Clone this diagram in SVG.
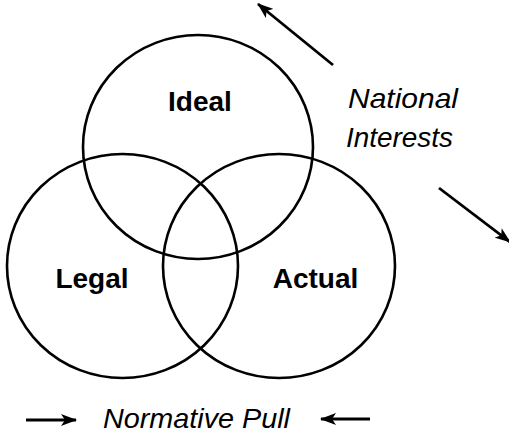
<svg xmlns="http://www.w3.org/2000/svg" width="509" height="433" viewBox="0 0 509 433">
<style>
.c{fill:none;stroke:#000;stroke-width:2.6}
.b{font-family:"Liberation Sans",Arial,sans-serif;font-weight:bold;font-size:28px;fill:#000;text-anchor:middle}
.i{font-family:"Liberation Sans",Arial,sans-serif;font-style:italic;font-size:28px;fill:#000}
.a{fill:none;stroke:#000;stroke-width:2.8}
</style>
<defs>
<marker id="ah" viewBox="0 0 16 12" refX="15" refY="6" markerWidth="16" markerHeight="12" markerUnits="userSpaceOnUse" orient="auto">
<path d="M0,0 L16,6 L0,12 L4,6 Z" fill="#000"/>
</marker>
</defs>
<rect width="509" height="433" fill="#fff"/>
<g id="ideal">
<ellipse class="c" cx="198" cy="147" rx="115" ry="112"/>
<text class="b" x="200" y="111">Ideal</text>
</g>
<g id="legal">
<ellipse class="c" cx="122.5" cy="266" rx="115.5" ry="112"/>
<text class="b" x="92" y="288">Legal</text>
</g>
<g id="actual">
<ellipse class="c" cx="279" cy="266" rx="116" ry="112"/>
<text class="b" x="315.5" y="288">Actual</text>
</g>
<g id="national-interests">
<text class="i" x="348" y="108" textLength="110" lengthAdjust="spacingAndGlyphs">National</text>
<text class="i" x="346" y="147" textLength="107" lengthAdjust="spacingAndGlyphs">Interests</text>
</g>
<g id="normative-pull">
<text class="i" x="103" y="428" textLength="187" lengthAdjust="spacingAndGlyphs">Normative Pull</text>
</g>
<g id="connectors">
<line class="a" x1="333" y1="65" x2="258" y2="4" marker-end="url(#ah)"/>
<line class="a" x1="439" y1="188" x2="510" y2="242" marker-end="url(#ah)"/>
<line class="a" x1="26" y1="420" x2="76" y2="420" marker-end="url(#ah)"/>
<line class="a" x1="370" y1="419" x2="321" y2="419" marker-end="url(#ah)"/>
</g>
</svg>
